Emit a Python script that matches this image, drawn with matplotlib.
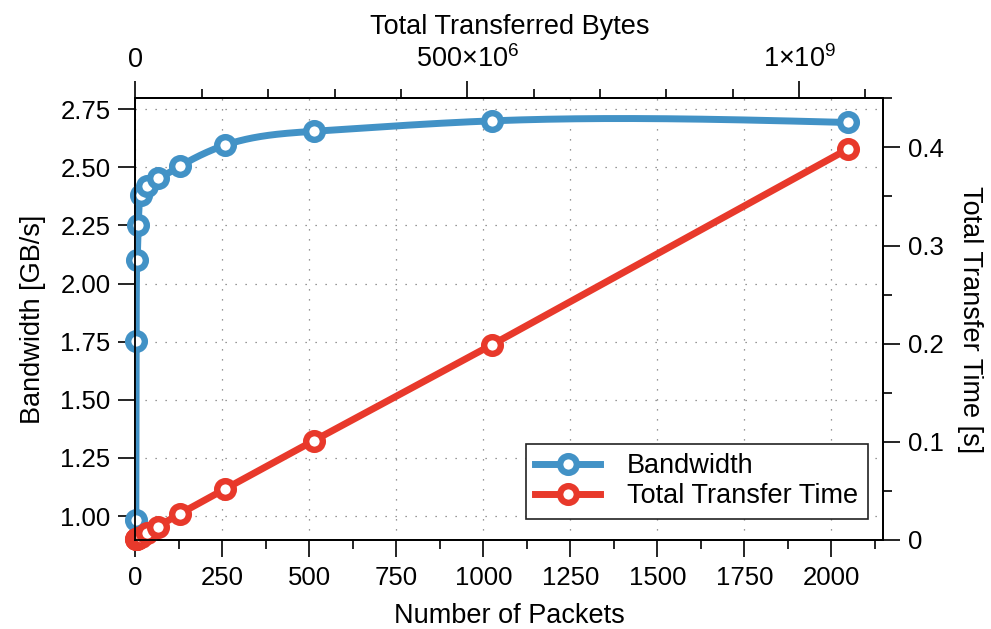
import numpy as np
import matplotlib
matplotlib.use("Agg")
import matplotlib.pyplot as plt
from matplotlib.ticker import MultipleLocator, FixedLocator, FuncFormatter

plt.rcParams.update({
    "font.family": ["Liberation Sans", "DejaVu Sans"],
    "font.size": 18.5, "mathtext.fontset": "custom", "mathtext.rm": "Liberation Sans",
    "mathtext.it": "Liberation Sans", "mathtext.default": "regular",
})

BLUE = "#4292c6"
RED = "#e8392b"
PACKET_BYTES = 524288  # 512 KiB per packet
LABEL_SIZE = 19.5

packets = [1, 2, 4, 8, 16, 32, 64, 128, 256, 512, 1024, 2048]
bandwidth = [0.985, 1.755, 2.10, 2.25, 2.38, 2.42, 2.455, 2.505, 2.595, 2.655, 2.70, 2.693]  # GB/s
transfer_time = [0.00054, 0.0006, 0.001, 0.0019, 0.0035, 0.0069, 0.0137, 0.0268,
                 0.0517, 0.1011, 0.1988, 0.3984]  # s
byte_ticks = [0, 5e8, 1e9]
byte_labels = ["0", "500×10$^{6}$", "1×10$^{9}$"]


def natural_spline(x, y, xs):
    x = np.asarray(x, float); y = np.asarray(y, float)
    n = len(x); h = np.diff(x)
    A = np.zeros((n, n)); r = np.zeros(n)
    A[0, 0] = A[-1, -1] = 1
    for i in range(1, n - 1):
        A[i, i - 1] = h[i - 1]; A[i, i] = 2 * (h[i - 1] + h[i]); A[i, i + 1] = h[i]
        r[i] = 6 * ((y[i + 1] - y[i]) / h[i] - (y[i] - y[i - 1]) / h[i - 1])
    m = np.linalg.solve(A, r)
    k = np.clip(np.searchsorted(x, xs) - 1, 0, n - 2)
    t = xs - x[k]; hk = h[k]
    a = (m[k + 1] - m[k]) / (6 * hk); b = m[k] / 2
    c = (y[k + 1] - y[k]) / hk - hk * (2 * m[k] + m[k + 1]) / 6
    return y[k] + c * t + b * t ** 2 + a * t ** 3


fig = plt.figure(figsize=(9.91, 6.29), dpi=100)
ax = fig.add_axes([0.1367, 0.1415, 0.7548, 0.7022])
ax2 = ax.twinx()

mk = dict(marker="o", ms=12, mew=4.6, mfc="white")
xs = np.concatenate([np.linspace(1, 64, 800), np.linspace(64, 2048, 800)[1:]])
ax.plot(xs, natural_spline(packets, bandwidth, xs), color=BLUE, lw=5, solid_capstyle="round", zorder=3)
ax.plot(packets, bandwidth, ls="none", mec=BLUE, zorder=4, clip_on=False, **mk)
ax2.plot(packets, transfer_time, color=RED, lw=5, mec=RED, solid_capstyle="round", clip_on=False, **mk)

ax.set_xlim(0, 2150)
ax.set_ylim(0.897, 2.797)
ax2.set_ylim(0, 0.45)

ax.xaxis.set_major_locator(MultipleLocator(250))
ax.xaxis.set_minor_locator(MultipleLocator(125))
ax.yaxis.set_major_locator(MultipleLocator(0.25))
ax.yaxis.set_major_formatter(FuncFormatter(lambda v, p: f"{v:.2f}"))
ax2.yaxis.set_major_locator(MultipleLocator(0.1))
ax2.yaxis.set_minor_locator(MultipleLocator(0.05))
ax2.yaxis.set_major_formatter(FuncFormatter(lambda v, p: "0" if abs(v) < 1e-9 else f"{v:.1f}"))

ax.grid(True, which="major", color="#777777", lw=0.9, ls=(0, (1, 7)))

# top axis: same packets expressed as bytes
top = ax.secondary_xaxis("top", functions=(lambda n: n * PACKET_BYTES, lambda b: b / PACKET_BYTES))
top.xaxis.set_major_locator(FixedLocator(byte_ticks))
top.xaxis.set_minor_locator(MultipleLocator(1e8))
top.set_xticklabels(byte_labels, fontsize=19.5)
top.set_xlabel("Total Transferred Bytes", fontsize=LABEL_SIZE, labelpad=8)

for a in (ax, ax2, top):
    a.tick_params(which="major", length=12, width=1.2, direction="out", pad=4)
    a.tick_params(which="minor", length=6.5, width=1.2, direction="out")
top.tick_params(which="major", pad=6)
ax.tick_params(axis="x", pad=7)
ax.tick_params(axis="y", pad=6)
ax2.tick_params(axis="y", pad=6)
for s in list(ax.spines.values()) + list(ax2.spines.values()):
    s.set_linewidth(1.3)
top.spines["top"].set_linewidth(1.3)

ax.set_xlabel("Number of Packets", fontsize=LABEL_SIZE, labelpad=9)
ax.set_ylabel("Bandwidth [GB/s]", fontsize=LABEL_SIZE, labelpad=10)
ax2.set_ylabel("Total Transfer Time [s]", fontsize=LABEL_SIZE, rotation=270, labelpad=28)

h1 = plt.Line2D([], [], color=BLUE, lw=5, mec=BLUE, **mk)
h2 = plt.Line2D([], [], color=RED, lw=5, mec=RED, **mk)
leg = ax2.legend([h1, h2], ["Bandwidth", "Total Transfer Time"], loc="lower right",
                 bbox_to_anchor=(0.979, 0.048), borderaxespad=0, fancybox=False, framealpha=1,
                 edgecolor="#222222", handlelength=2.4, borderpad=0.35, labelspacing=0.15,
                 handletextpad=1.0, fontsize=LABEL_SIZE)
leg.get_frame().set_linewidth(1.2)

fig.savefig("out.png", dpi=100)
